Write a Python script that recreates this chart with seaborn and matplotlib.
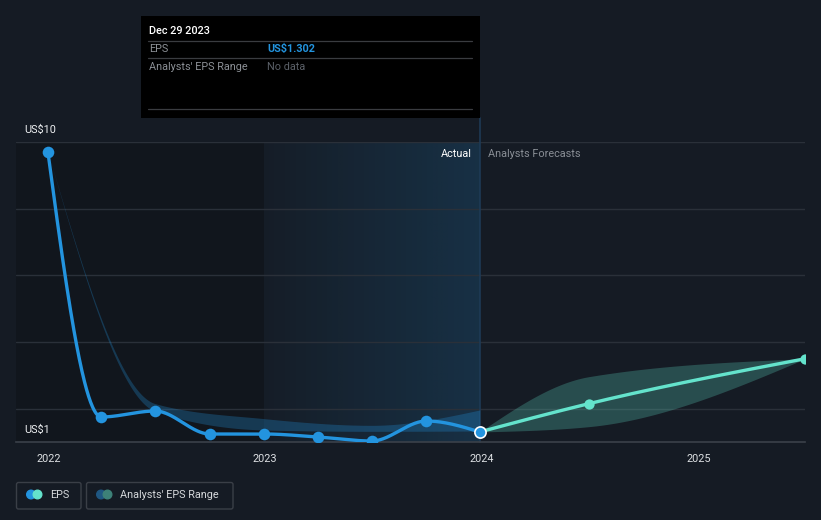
import numpy as np
import pandas as pd
import matplotlib
matplotlib.use("Agg")
import matplotlib.pyplot as plt
import matplotlib.dates as mdates
from matplotlib.patches import Rectangle, FancyBboxPatch, Circle
import seaborn as sns

# ---------------- data ----------------
eps_dates = ["2021-12-31", "2022-03-31", "2022-06-30", "2022-09-30", "2022-12-31",
             "2023-03-31", "2023-06-30", "2023-09-30", "2023-12-29"]
eps_values = [9.70, 1.75, 1.93, 1.24, 1.24, 1.15, 1.03, 1.63, 1.302]

fc_dates = ["2023-12-29", "2024-06-30", "2025-06-30"]
fc_values = [1.302, 2.15, 3.50]
fc_low = [1.302, 1.46, 3.50]
fc_high = [1.302, 2.96, 3.50]

past_range_dates = ["2021-12-31", "2022-06-30", "2022-12-31", "2023-06-30", "2023-12-29"]
past_low = [9.70, 1.92, 1.36, 1.32, 1.33]
past_high = [9.70, 2.15, 1.70, 1.50, 1.96]

year_ticks = ["2022", "2023", "2024", "2025"]
y_labels = {10: "US$10", 1: "US$1"}

# ---------------- style ----------------
BG = "#151b24"
EPS_C = "#2394df"
FC_C = "#64e3cc"
GRID = "#2a3039"
AXIS = "#3b414a"

sns.set_theme(style="dark", rc={"axes.facecolor": BG, "figure.facecolor": BG})
plt.rcParams["font.family"] = ["Roboto", "DejaVu Sans"]


def monotone(xs, ys, n=80):
    xs = np.asarray(xs, float)
    ys = np.asarray(ys, float)
    h = np.diff(xs)
    s = np.diff(ys) / h
    m = np.zeros_like(ys)
    for i in range(1, len(xs) - 1):
        p = (s[i - 1] * h[i] + s[i] * h[i - 1]) / (h[i - 1] + h[i])
        m[i] = (np.sign(s[i - 1]) + np.sign(s[i])) * min(abs(s[i - 1]), abs(s[i]), 0.5 * abs(p))
    if len(xs) > 2:
        m[0] = (3 * s[0] - m[1]) / 2
        m[-1] = (3 * s[-1] - m[-2]) / 2
    else:
        m[0] = m[-1] = s[0]
    X, Y = [], []
    for i in range(len(xs) - 1):
        t = np.linspace(0, 1, n, endpoint=(i == len(xs) - 2))
        h00 = 2 * t**3 - 3 * t**2 + 1
        h10 = t**3 - 2 * t**2 + t
        h01 = -2 * t**3 + 3 * t**2
        h11 = t**3 - t**2
        X.append(xs[i] + t * h[i])
        Y.append(h00 * ys[i] + h10 * h[i] * m[i] + h01 * ys[i + 1] + h11 * h[i] * m[i + 1])
    return np.concatenate(X), np.concatenate(Y)


def dnum(lst):
    return mdates.date2num(pd.to_datetime(lst))


ex, ey = dnum(eps_dates), np.array(eps_values)
fx, fy = dnum(fc_dates), np.array(fc_values)
px = dnum(past_range_dates)

W, H = 821, 520
fig = plt.figure(figsize=(W / 100, H / 100), dpi=100)
fig.patch.set_facecolor(BG)
L, R, T, B = 16, 805, 142, 442
ax = fig.add_axes([L / W, 1 - B / H, (R - L) / W, (B - T) / H])
ax.set_facecolor(BG)

d2022 = mdates.date2num(pd.Timestamp("2022-01-01"))
d2024 = mdates.date2num(pd.Timestamp("2024-01-01"))
px_per_day = (481.5 - 48.5) / (d2024 - d2022)
xmin = d2022 - (48.5 - L) / px_per_day
xmax = d2022 + (R - 48.5) / px_per_day
ax.set_xlim(xmin, xmax)
ax.set_ylim(1, 10)
units_per_px = 9 / (B - T)

# background regions
d2023 = mdates.date2num(pd.Timestamp("2023-01-01"))
now = ex[-1]
ax.axvspan(xmin, d2023 - 2, color="black", alpha=0.17, lw=0, zorder=0)
grad = np.zeros((2, 256, 4))
grad[..., 0] = 0x23 / 255
grad[..., 1] = 0x94 / 255
grad[..., 2] = 0xdf / 255
grad[..., 3] = np.linspace(0.02, 0.18, 256)[None, :]
ax.imshow(grad, extent=[d2023 - 2, now, 1, 10], aspect="auto", zorder=0.5, interpolation="bilinear")

# grid
for g in [2, 4, 6, 8, 10]:
    ax.axhline(g, color=GRID, lw=1, zorder=1)

# "today" line, extending up to the tooltip
ax.plot([now, now], [1, 10 + (T - 118) * units_per_px], color="#1e3a55", lw=1.2, zorder=1.5,
        clip_on=False)

# bands
bx, bl = monotone(px, past_low)
_, bh = monotone(px, past_high)
ax.fill_between(bx, bl, bh, color=EPS_C, alpha=0.28, lw=0, zorder=2)
fbx, fbl = monotone(fx, fc_low)
_, fbh = monotone(fx, fc_high)
ax.fill_between(fbx, fbl, fbh, color=FC_C, alpha=0.25, lw=0, zorder=2)

# lines
sx, sy = monotone(ex, ey)
sns.lineplot(x=sx, y=sy, ax=ax, color=EPS_C, lw=2.4, estimator=None, sort=False, zorder=4)
sfx, sfy = monotone(fx, fy)
sns.lineplot(x=sfx, y=sfy, ax=ax, color=FC_C, lw=2.4, estimator=None, sort=False, zorder=4)

sns.scatterplot(x=ex[:-1], y=ey[:-1], ax=ax, color=EPS_C, s=70, linewidth=0, zorder=5)
sns.scatterplot(x=fx[1:], y=fy[1:], ax=ax, color=FC_C, s=55, linewidth=0, zorder=5)
sns.scatterplot(x=ex[-1:], y=ey[-1:], ax=ax, color=EPS_C, s=65, edgecolor="white", linewidth=1.2,
                zorder=6)

# axes styling
for sp in ["top", "right", "left"]:
    ax.spines[sp].set_visible(False)
ax.spines["bottom"].set_color(AXIS)
ax.spines["bottom"].set_linewidth(1.2)
ax.set_yticks([])
ax.set_xticks([mdates.date2num(pd.Timestamp(f"{y}-01-01")) for y in year_ticks])
ax.set_xticklabels(year_ticks)
ax.tick_params(axis="x", colors=AXIS, length=4, width=1, pad=5, labelcolor="#dde0e3", labelsize=7.8)
ax.grid(False)
ax.set_xlabel("")
ax.set_ylabel("")

for v, lab in y_labels.items():
    ax.annotate(lab, xy=(0, v), xycoords=("axes fraction", "data"), xytext=(8, 12),
                textcoords="offset pixels", color="#eef0f2", fontsize=7.8, va="center", ha="left")

ax.annotate("Actual", xy=(now, 10), xytext=(-8, -12), textcoords="offset pixels",
            color="#ffffff", fontsize=7.8, va="center", ha="right")
ax.annotate("Analysts Forecasts", xy=(now, 10), xytext=(8, -12), textcoords="offset pixels",
            color="#8a8f96", fontsize=7.8, va="center", ha="left")

# overlay in pixel coordinates
ov = fig.add_axes([0, 0, 1, 1])
ov.set_xlim(0, W)
ov.set_ylim(H, 0)
ov.axis("off")
ov.patch.set_alpha(0)

now_px = L + (now - xmin) * px_per_day
ov.add_patch(Rectangle((141, 16), now_px - 141, 102, facecolor="black", edgecolor="none", zorder=2))
for yy in [41, 58, 109]:
    ov.plot([148, 472], [yy, yy], color="#3a3c40", lw=0.9, zorder=3)
ov.text(149, 31, "Dec 29 2023", color="white", fontsize=7.8, va="center", ha="left", zorder=4,
        fontweight="medium")
ov.text(149, 49, "EPS", color="#8c9096", fontsize=7.8, va="center", ha="left", zorder=4)
ov.text(267, 49, "US$1.302", color=EPS_C, fontsize=7.8, va="center", ha="left", zorder=4,
        fontweight="bold")
ov.text(149, 66.5, "Analysts' EPS Range", color="#8c9096", fontsize=7.8, va="center", ha="left", zorder=4)
ov.text(267, 66.5, "No data", color="#5b6068", fontsize=7.8, va="center", ha="left", zorder=4)

# legend
ov.add_patch(FancyBboxPatch((16.5, 482.5), 64.5, 26.5, boxstyle="round,pad=0,rounding_size=2",
                            facecolor="none", edgecolor="#3a3f47", lw=1))
ov.add_patch(FancyBboxPatch((86.5, 482.5), 146.5, 26.5, boxstyle="round,pad=0,rounding_size=2",
                            facecolor="none", edgecolor="#3a3f47", lw=1))
ov.add_patch(Circle((31, 494.5), 4.3, color=EPS_C, zorder=3))
ov.add_patch(Circle((37.5, 494.5), 4.3, color=FC_C, zorder=4))
ov.add_patch(Circle((101, 494.5), 4.3, color="#1f5782", zorder=3))
ov.add_patch(Circle((107.5, 494.5), 4.3, color="#3d8178", zorder=4))
ov.text(50, 495, "EPS", color="#d5d8db", fontsize=7.8, va="center", ha="left")
ov.text(120, 495, "Analysts' EPS Range", color="#d5d8db", fontsize=7.8, va="center", ha="left")

fig.savefig("out.png", dpi=100, facecolor=BG)
